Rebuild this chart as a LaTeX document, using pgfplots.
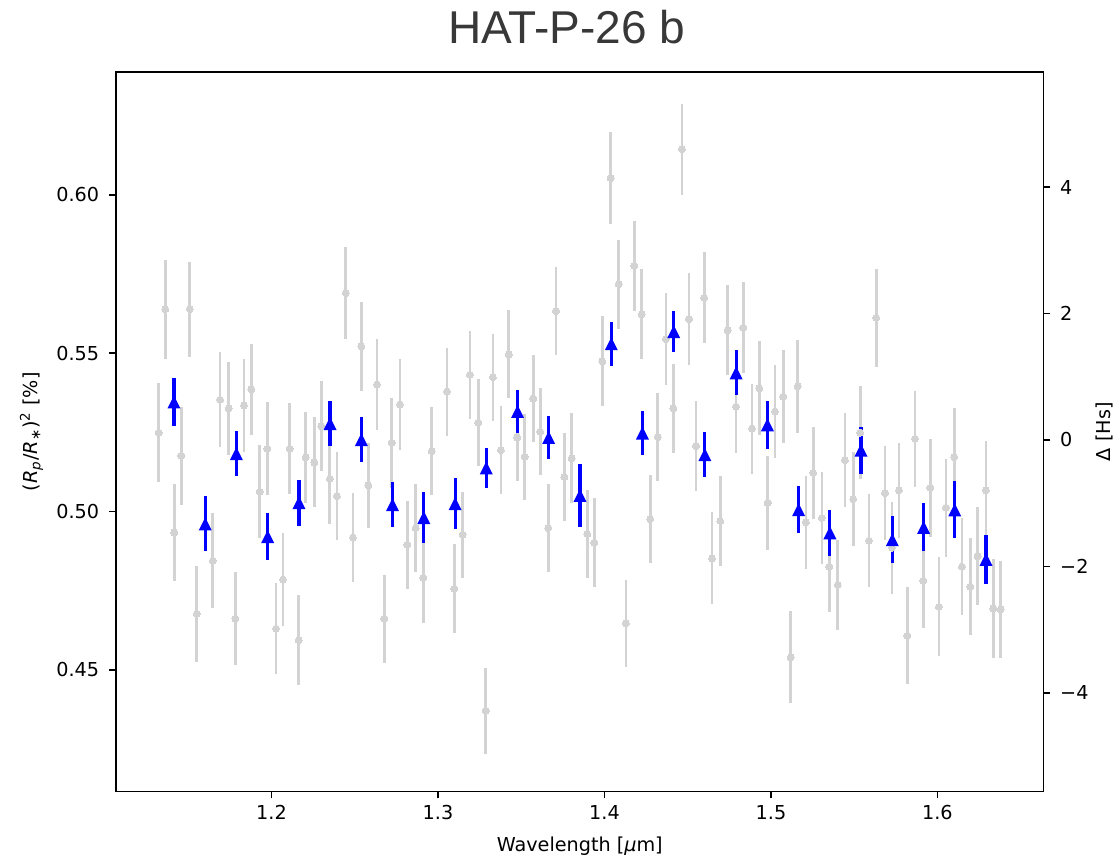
\documentclass[border=0pt]{standalone}
\usepackage{fontspec}
\setmainfont{DejaVu Sans}
\newfontfamily\titlefont{Liberation Sans}
\usepackage{pgfplots}
\pgfplotsset{compat=1.18}
\usepackage{pgfplotstable}

\definecolor{lg}{HTML}{D3D3D3}
\definecolor{mblue}{HTML}{0000FF}
\definecolor{tgray}{HTML}{383838}

\pgfdeclareplotmark{mtri}{%
  \pgfpathmoveto{\pgfqpoint{0pt}{\pgfplotmarksize}}%
  \pgfpathlineto{\pgfqpoint{-\pgfplotmarksize}{-\pgfplotmarksize}}%
  \pgfpathlineto{\pgfqpoint{\pgfplotmarksize}{-\pgfplotmarksize}}%
  \pgfpathclose\pgfusepathqfill}

\pgfplotstableread{
x y e
1.1323 0.5249 0.0157
1.1362 0.5639 0.0156
1.1416 0.4934 0.0154
1.1458 0.5176 0.0154
1.1509 0.5639 0.0150
1.1551 0.4677 0.0151
1.1647 0.4844 0.0150
1.1691 0.5353 0.0150
1.1743 0.5326 0.0147
1.1783 0.4662 0.0146
1.1835 0.5335 0.0147
1.1879 0.5386 0.0144
1.1929 0.5063 0.0147
1.1975 0.5198 0.0147
1.2027 0.4630 0.0144
1.2069 0.4785 0.0147
1.2109 0.5198 0.0144
1.2163 0.4594 0.0143
1.2205 0.5171 0.0143
1.2257 0.5155 0.0142
1.2299 0.5270 0.0143
1.2350 0.5103 0.0143
1.2393 0.5049 0.0140
1.2446 0.5690 0.0144
1.2489 0.4918 0.0141
1.2539 0.5522 0.0141
1.2581 0.5083 0.0135
1.2634 0.5401 0.0143
1.2677 0.4662 0.0139
1.2722 0.5217 0.0142
1.2772 0.5338 0.0143
1.2816 0.4895 0.0139
1.2866 0.4948 0.0140
1.2912 0.4791 0.0143
1.2962 0.5191 0.0138
1.3054 0.5379 0.0139
1.3098 0.4756 0.0141
1.3148 0.4927 0.0136
1.3192 0.5432 0.0139
1.3242 0.5281 0.0136
1.3287 0.4371 0.0136
1.3330 0.5424 0.0138
1.3378 0.5194 0.0140
1.3425 0.5496 0.0139
1.3476 0.5234 0.0138
1.3521 0.5173 0.0135
1.3572 0.5357 0.0137
1.3614 0.5252 0.0138
1.3662 0.4948 0.0138
1.3709 0.5633 0.0139
1.3759 0.5109 0.0138
1.3803 0.5168 0.0142
1.3897 0.4929 0.0139
1.3939 0.4902 0.0140
1.3987 0.5474 0.0142
1.4037 0.6053 0.0144
1.4085 0.5718 0.0140
1.4129 0.4647 0.0137
1.4179 0.5776 0.0143
1.4223 0.5623 0.0142
1.4275 0.4976 0.0140
1.4320 0.5235 0.0140
1.4369 0.5545 0.0144
1.4413 0.5326 0.0141
1.4465 0.6144 0.0144
1.4508 0.5608 0.0145
1.4550 0.5207 0.0142
1.4599 0.5675 0.0144
1.4646 0.4852 0.0145
1.4696 0.4970 0.0143
1.4740 0.5572 0.0142
1.4790 0.5331 0.0145
1.4834 0.5580 0.0144
1.4886 0.5262 0.0142
1.4930 0.5389 0.0148
1.4980 0.5027 0.0147
1.5024 0.5316 0.0147
1.5074 0.5363 0.0147
1.5118 0.4540 0.0145
1.5160 0.5395 0.0146
1.5210 0.4966 0.0146
1.5254 0.5122 0.0144
1.5306 0.4980 0.0146
1.5350 0.4826 0.0144
1.5401 0.4768 0.0143
1.5444 0.5162 0.0148
1.5494 0.5039 0.0148
1.5536 0.5249 0.0146
1.5589 0.4908 0.0147
1.5632 0.5612 0.0154
1.5685 0.5058 0.0149
1.5727 0.4886 0.0145
1.5769 0.5067 0.0151
1.5819 0.4608 0.0154
1.5865 0.5230 0.0152
1.5915 0.4781 0.0148
1.5957 0.5075 0.0154
1.6009 0.4699 0.0156
1.6051 0.5012 0.0154
1.6101 0.5172 0.0154
1.6147 0.4826 0.0154
1.6197 0.4763 0.0154
1.6241 0.4859 0.0154
1.6291 0.5067 0.0156
1.6335 0.4694 0.0156
1.6380 0.4691 0.0154
}\graydata

\pgfplotstableread{
x y e
1.1414 0.5346 0.0076
1.1602 0.4961 0.0087
1.1789 0.5183 0.0072
1.1977 0.4921 0.0074
1.2165 0.5028 0.0073
1.2352 0.5278 0.0072
1.2540 0.5227 0.0072
1.2727 0.5022 0.0072
1.2915 0.4981 0.0080
1.3103 0.5025 0.0080
1.3290 0.5138 0.0064
1.3478 0.5316 0.0069
1.3665 0.5234 0.0069
1.3853 0.5051 0.0100
1.4041 0.5530 0.0070
1.4228 0.5248 0.0071
1.4416 0.5568 0.0065
1.4603 0.5180 0.0070
1.4791 0.5438 0.0071
1.4979 0.5274 0.0076
1.5166 0.5006 0.0075
1.5354 0.4933 0.0072
1.5541 0.5194 0.0074
1.5729 0.4911 0.0075
1.5917 0.4950 0.0076
1.6104 0.5005 0.0090
1.6292 0.4849 0.0078
}\bluedata

\begin{document}
\begin{tikzpicture}
\path[use as bounding box] (-58pt,-32.25pt) rectangle (499.5pt,395.75pt);
\begin{axis}[
  scale only axis, width=463.75pt, height=359.75pt,
  xmin=1.1066, xmax=1.6637, ymin=0.4116, ymax=0.6388,
  axis line style={line width=0.8pt, black},
  tick align=outside, major tick length=3.4pt,
  tick style={line width=0.75pt, black},
  xtick pos=left, ytick pos=left,
  xtick={1.2,1.3,1.4,1.5,1.6}, xticklabels={1.2,1.3,1.4,1.5,1.6},
  ytick={0.45,0.5,0.55,0.6}, yticklabels={0.45,0.50,0.55,0.60},
  ticklabel style={font=\fontsize{9.6}{11}\selectfont, inner sep=0pt},
  xticklabel style={yshift=-3.25pt},
  yticklabel style={xshift=-4.85pt},
  xlabel={Wavelength [\textit{μ}m]},
  ylabel={(\textit{R}\textsubscript{\textit{p}}/\textit{R}\textsubscript{∗})\textsuperscript{2} [\%]},
  label style={font=\fontsize{9.6}{11}\selectfont},
  xlabel style={at={(axis description cs:0.5,-0.0837)}, anchor=base, inner sep=0pt},
  ylabel style={at={(axis description cs:-0.0849,0.5)}, anchor=base, inner sep=0pt},
]
\addplot[only marks, mark=*, mark size=1.75pt, mark options={draw=lg, fill=lg, line width=0pt},
  error bars/.cd, y dir=both, y explicit, error mark=none,
  error bar style={line width=1.35pt, color=lg}]
  table[x=x, y=y, y error=e] {\graydata};
\addplot[only marks, mark=mtri, mark size=3.25pt, mark options={fill=mblue},
  error bars/.cd, y dir=both, y explicit, error mark=none,
  error bar style={line width=1.6pt, color=mblue}]
  table[x=x, y=y, y error=e] {\bluedata};
\end{axis}
\begin{axis}[
  scale only axis, width=463.75pt, height=359.75pt,
  xmin=1.1066, xmax=1.6637, ymin=-5.562, ymax=5.823,
  axis x line=none, axis y line*=right,
  axis line style={line width=0.8pt, black},
  tick align=outside, major tick length=3.4pt,
  tick style={line width=0.75pt, black},
  ytick={-4,-2,0,2,4}, yticklabels={−4,−2,0,2,4},
  yticklabel style={font=\fontsize{9.6}{11}\selectfont, inner sep=0pt, xshift=4.75pt},
  ylabel={Δ [Hs]},
  ylabel style={font=\fontsize{9.6}{11}\selectfont, at={(axis description cs:1.0717,0.5)}, anchor=base, inner sep=0pt, rotate=0},
]
\addplot[draw=none, forget plot] coordinates {(1.2,0)};
\end{axis}
\node[anchor=base, inner sep=0pt, text=tgray, font=\fontsize{23}{27}\selectfont\titlefont] at (225.25pt,374.1pt) {HAT-P-26 b};
\end{tikzpicture}
\end{document}
